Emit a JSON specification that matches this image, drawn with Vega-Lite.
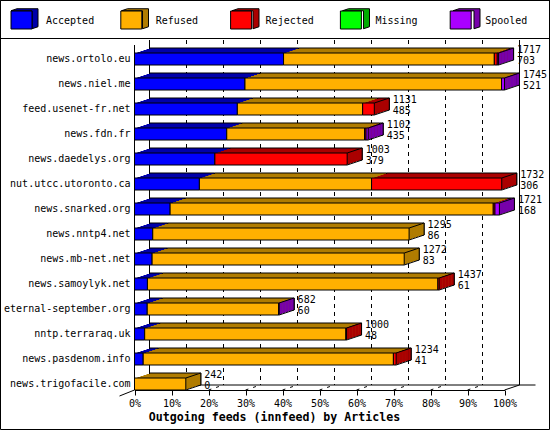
{
"$schema":"https://vega.github.io/schema/vega-lite/v6.json",
"width":549,"height":429,"autosize":"none","padding":{"left":0,"top":0,"right":1,"bottom":1},
"background":"white",
"view":{"stroke":"black","strokeWidth":1,"fill":"white"},
"config":{"font":"DejaVu Sans Mono","axis":{"labelFont":"DejaVu Sans Mono","titleFont":"DejaVu Sans Mono","labelFontSize":10,"labelColor":"black","titleColor":"black"},"legend":{"labelFont":"DejaVu Sans Mono","labelFontSize":10,"labelColor":"black"}},
"datasets":{
"ticks":[{"tick":0},{"tick":174.5},{"tick":349},{"tick":523.5},{"tick":698},{"tick":872.5},{"tick":1047},{"tick":1221.5},{"tick":1396},{"tick":1570.5},{"tick":1745}],
"segments":[
{"host":"news.ortolo.eu","status":"Accepted","articles":703},{"host":"news.ortolo.eu","status":"Refused","articles":994},{"host":"news.ortolo.eu","status":"Rejected","articles":14},{"host":"news.ortolo.eu","status":"Spooled","articles":6},
{"host":"news.niel.me","status":"Accepted","articles":521},{"host":"news.niel.me","status":"Refused","articles":1210},{"host":"news.niel.me","status":"Spooled","articles":14},
{"host":"feed.usenet-fr.net","status":"Accepted","articles":485},{"host":"feed.usenet-fr.net","status":"Refused","articles":591},{"host":"feed.usenet-fr.net","status":"Rejected","articles":55},
{"host":"news.fdn.fr","status":"Accepted","articles":435},{"host":"news.fdn.fr","status":"Refused","articles":650},{"host":"news.fdn.fr","status":"Rejected","articles":7},{"host":"news.fdn.fr","status":"Spooled","articles":10},
{"host":"news.daedelys.org","status":"Accepted","articles":379},{"host":"news.daedelys.org","status":"Rejected","articles":624},
{"host":"nut.utcc.utoronto.ca","status":"Accepted","articles":306},{"host":"nut.utcc.utoronto.ca","status":"Refused","articles":812},{"host":"nut.utcc.utoronto.ca","status":"Rejected","articles":614},
{"host":"news.snarked.org","status":"Accepted","articles":168},{"host":"news.snarked.org","status":"Refused","articles":1524},{"host":"news.snarked.org","status":"Rejected","articles":8},{"host":"news.snarked.org","status":"Spooled","articles":21},
{"host":"news.nntp4.net","status":"Accepted","articles":86},{"host":"news.nntp4.net","status":"Refused","articles":1209},
{"host":"news.mb-net.net","status":"Accepted","articles":83},{"host":"news.mb-net.net","status":"Refused","articles":1189},
{"host":"news.samoylyk.net","status":"Accepted","articles":61},{"host":"news.samoylyk.net","status":"Refused","articles":1370},{"host":"news.samoylyk.net","status":"Rejected","articles":6},
{"host":"eternal-september.org","status":"Accepted","articles":60},{"host":"eternal-september.org","status":"Refused","articles":620},{"host":"eternal-september.org","status":"Spooled","articles":2},
{"host":"nntp.terraraq.uk","status":"Accepted","articles":48},{"host":"nntp.terraraq.uk","status":"Refused","articles":949},{"host":"nntp.terraraq.uk","status":"Rejected","articles":3},
{"host":"news.pasdenom.info","status":"Accepted","articles":41},{"host":"news.pasdenom.info","status":"Refused","articles":1180},{"host":"news.pasdenom.info","status":"Rejected","articles":13},
{"host":"news.trigofacile.com","status":"Accepted","articles":0},{"host":"news.trigofacile.com","status":"Refused","articles":242}
]},
"data":{"name":"segments"},
"transform":[
{"calculate":"indexof(['Accepted','Refused','Rejected','Missing','Spooled'],datum.status)","as":"order"},
{"stack":"articles","groupby":["host"],"sort":[{"field":"order","order":"ascending"}],"as":["start","end"]},
{"joinaggregate":[{"op":"max","field":"end","as":"total"}],"groupby":["host"]}
],
"encoding":{
"y":{"field":"host","type":"nominal","title":null,
 "scale":{"domain":["news.ortolo.eu","news.niel.me","feed.usenet-fr.net","news.fdn.fr","news.daedelys.org","nut.utcc.utoronto.ca","news.snarked.org","news.nntp4.net","news.mb-net.net","news.samoylyk.net","eternal-september.org","nntp.terraraq.uk","news.pasdenom.info","news.trigofacile.com"],"range":[46.5,396.5],"paddingInner":0.52,"paddingOuter":0.26},
 "axis":{"domain":false,"ticks":false,"labelPadding":0,"offset":-130,"labelLimit":200,"grid":false}}
},
"layer":[
{"data":{"name":"ticks"},"transform":[{"filter":"datum.tick>0 && datum.tick<1745"}],"mark":{"type":"rule","color":"black","strokeDash":[4,4],"xOffset":15,"x2Offset":15,"yOffset":-19,"y2Offset":1},
 "encoding":{"x":{"field":"tick","type":"quantitative","title":"Outgoing feeds (innfeed) by Articles",
   "scale":{"domain":[0,1745],"range":[134.5,504.5],"nice":false,"zero":false},
   "axis":{"values":[0,174.5,349,523.5,698,872.5,1047,1221.5,1396,1570.5,1745],"labelExpr":"round(datum.value/17.45)+'%'","grid":false,"offset":-39,"tickSize":5,"tickColor":"black","domainColor":"black","labelPadding":3,"labelFlush":false,"labelOverlap":false,"titleFontSize":11.6,"titleFontWeight":"bold","titleX":274,"titleY":27,"titleBaseline":"middle","titleAnchor":"middle"}},
  "x2":{"field":"tick"},"y":{"datum":"news.ortolo.eu"},"y2":{"datum":"news.trigofacile.com"}}},
{"data":{"name":"ticks"},"transform":[{"filter":"datum.tick==0 || datum.tick==1745"}],"mark":{"type":"rule","color":"black","xOffset":15,"x2Offset":15,"yOffset":-19,"y2Offset":1},
 "encoding":{"x":{"field":"tick","type":"quantitative"},"x2":{"field":"tick"},"y":{"datum":"news.ortolo.eu"},"y2":{"datum":"news.trigofacile.com"}}},
{"data":{"name":"ticks"},"transform":[{"filter":"datum.tick==0"}],"mark":{"type":"rule","color":"black","yOffset":-14,"y2Offset":6},
 "encoding":{"x":{"field":"tick","type":"quantitative"},"x2":{"field":"tick"},"y":{"datum":"news.ortolo.eu"},"y2":{"datum":"news.trigofacile.com"}}},
{"data":{"name":"ticks"},"transform":[{"filter":"datum.tick>0 && datum.tick<1745"}],"mark":{"type":"rule","color":"black","strokeDash":[3,5],"yOffset":6,"y2Offset":1,"x2Offset":15},
 "encoding":{"x":{"field":"tick","type":"quantitative"},"x2":{"field":"tick"},"y":{"datum":"news.trigofacile.com"},"y2":{"datum":"news.trigofacile.com"}}},
{"data":{"name":"ticks"},"transform":[{"filter":"datum.tick==1745"}],"mark":{"type":"rule","color":"black","yOffset":6,"y2Offset":1,"x2Offset":15},
 "encoding":{"x":{"field":"tick","type":"quantitative"},"x2":{"field":"tick"},"y":{"datum":"news.trigofacile.com"},"y2":{"datum":"news.trigofacile.com"}}},
{"data":{"name":"ticks"},"transform":[{"filter":"datum.tick==0"}],"mark":{"type":"rule","color":"black","yOffset":6,"y2Offset":12,"x2Offset":-15},
 "encoding":{"x":{"field":"tick","type":"quantitative"},"x2":{"field":"tick"},"y":{"datum":"news.trigofacile.com"},"y2":{"datum":"news.trigofacile.com"}}},
{"data":{"name":"ticks"},"transform":[{"filter":"datum.tick==1745"}],"mark":{"type":"rule","color":"black","yOffset":1,"y2Offset":1,"xOffset":-355,"x2Offset":31},
 "encoding":{"x":{"field":"tick","type":"quantitative"},"x2":{"field":"tick"},"y":{"datum":"news.trigofacile.com"},"y2":{"datum":"news.trigofacile.com"}}},

{"transform":[{"filter":"datum.articles>0"}],"mark":{"type":"rect","stroke":"black","strokeWidth":1,"xOffset":15,"x2Offset":15,"yOffset":-5,"y2Offset":-5},
 "encoding":{"x":{"field":"start","type":"quantitative"},"x2":{"field":"end"},
  "fill":{"field":"status","type":"nominal","scale":{"domain":["Spooled","Missing","Rejected","Refused","Accepted"],"range":["#7700aa","#00aa00","#aa0000","#b07c00","#0000aa"]},
   "legend":{"values":["Accepted","Refused","Rejected","Missing","Spooled"],"orient":"none","legendX":0,"legendY":0,"title":null,"direction":"horizontal","columns":5,"padding":7,"strokeColor":"black","gridAlign":"all","columnPadding":8.5,"symbolSize":441,"symbolType":"M-0.667,-0.714L-0.095,-0.905L1.905,-0.905L1.905,0.81L1.333,1L1.333,-0.714Z","symbolStrokeColor":"black","symbolStrokeWidth":1,"symbolOpacity":1,"labelOffset":65,"labelFontSize":3,"labelOpacity":0,"labelLimit":300}}}},
{"mark":{"type":"rect","xOffset":12,"x2Offset":12,"yOffset":-4,"y2Offset":-4},
 "encoding":{"x":{"field":"start","type":"quantitative"},"x2":{"field":"end"},"fill":{"field":"status","type":"nominal","legend":null}}},
{"mark":{"type":"rect","xOffset":9,"x2Offset":9,"yOffset":-3,"y2Offset":-3},
 "encoding":{"x":{"field":"start","type":"quantitative"},"x2":{"field":"end"},"fill":{"field":"status","type":"nominal","legend":null}}},
{"mark":{"type":"rect","xOffset":6,"x2Offset":6,"yOffset":-2,"y2Offset":-2},
 "encoding":{"x":{"field":"start","type":"quantitative"},"x2":{"field":"end"},"fill":{"field":"status","type":"nominal","legend":null}}},
{"mark":{"type":"rect","xOffset":3,"x2Offset":3,"yOffset":-1,"y2Offset":-1},
 "encoding":{"x":{"field":"start","type":"quantitative"},"x2":{"field":"end"},"fill":{"field":"status","type":"nominal","legend":null}}},

{"transform":[{"filter":"datum.end==datum.total"}],"mark":{"type":"rect","xOffset":12,"x2Offset":15,"yOffset":-5,"y2Offset":-5},
 "encoding":{"x":{"field":"end","type":"quantitative"},"x2":{"field":"end"},"fill":{"field":"status","type":"nominal","legend":null}}},
{"transform":[{"filter":"datum.end==datum.total"}],"mark":{"type":"rect","xOffset":9,"x2Offset":12,"yOffset":-4,"y2Offset":-4},
 "encoding":{"x":{"field":"end","type":"quantitative"},"x2":{"field":"end"},"fill":{"field":"status","type":"nominal","legend":null}}},
{"transform":[{"filter":"datum.end==datum.total"}],"mark":{"type":"rect","xOffset":6,"x2Offset":9,"yOffset":-3,"y2Offset":-3},
 "encoding":{"x":{"field":"end","type":"quantitative"},"x2":{"field":"end"},"fill":{"field":"status","type":"nominal","legend":null}}},
{"transform":[{"filter":"datum.end==datum.total"}],"mark":{"type":"rect","xOffset":3,"x2Offset":6,"yOffset":-2,"y2Offset":-2},
 "encoding":{"x":{"field":"end","type":"quantitative"},"x2":{"field":"end"},"fill":{"field":"status","type":"nominal","legend":null}}},
{"transform":[{"filter":"datum.end==datum.total"}],"mark":{"type":"rect","xOffset":0,"x2Offset":3,"yOffset":-1,"y2Offset":-1},
 "encoding":{"x":{"field":"end","type":"quantitative"},"x2":{"field":"end"},"fill":{"field":"status","type":"nominal","legend":null}}},

{"transform":[{"filter":"datum.end==datum.total"}],"mark":{"type":"rule","color":"black","yOffset":-6,"y2Offset":-11,"x2Offset":15},
 "encoding":{"x":{"field":"end","type":"quantitative"},"x2":{"field":"end"},"y2":{"field":"host"}}},
{"transform":[{"filter":"datum.end==datum.total"}],"mark":{"type":"rule","color":"black","yOffset":6,"y2Offset":1,"x2Offset":15},
 "encoding":{"x":{"field":"end","type":"quantitative"},"x2":{"field":"end"},"y2":{"field":"host"}}},
{"transform":[{"filter":"datum.end==datum.total"}],"mark":{"type":"rule","color":"black","xOffset":15,"x2Offset":15,"yOffset":-11,"y2Offset":1},
 "encoding":{"x":{"field":"end","type":"quantitative"},"x2":{"field":"end"},"y2":{"field":"host"}}},

{"transform":[{"filter":"datum.articles>0"}],"mark":{"type":"rect","stroke":"black","strokeWidth":1},
 "encoding":{"x":{"field":"start","type":"quantitative"},"x2":{"field":"end"},
  "color":{"field":"status","type":"nominal","scale":{"domain":["Accepted","Refused","Rejected","Missing","Spooled"],"range":["#0000ff","#ffb000","#ff0000","#00ff00","#aa00ff"]},
   "legend":{"orient":"none","legendX":10.5,"legendY":10,"title":null,"direction":"horizontal","columns":5,"padding":0,"gridAlign":"all","columnPadding":23.8,"symbolSize":400,"symbolType":"M-1,-0.95L1.1,-0.95L1.1,0.85L-1,0.85Z","symbolStrokeColor":"black","symbolStrokeWidth":1,"symbolOpacity":1,"labelOffset":14.5}}}},

{"transform":[{"filter":"datum.status=='Accepted'"}],"mark":{"type":"text","align":"left","baseline":"middle","xOffset":18.5,"yOffset":-9,"fontSize":10,"color":"black"},
 "encoding":{"x":{"field":"total","type":"quantitative"},"text":{"field":"total","type":"quantitative"}}},
{"transform":[{"filter":"datum.status=='Accepted'"}],"mark":{"type":"text","align":"left","baseline":"middle","xOffset":18.5,"yOffset":2,"fontSize":10,"color":"black"},
 "encoding":{"x":{"field":"total","type":"quantitative"},"text":{"field":"articles","type":"quantitative"}}}
]
}
